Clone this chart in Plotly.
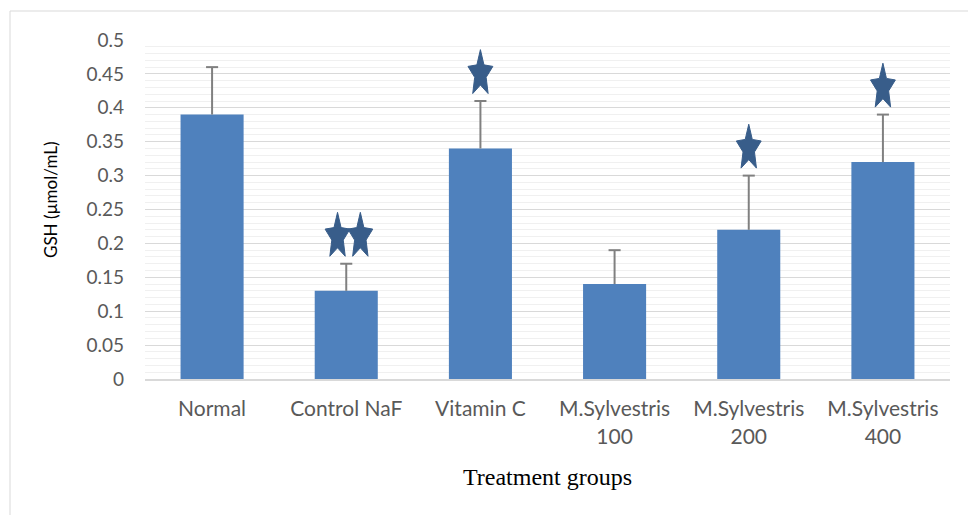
import math
import plotly.graph_objects as go

# GSH levels per treatment group (mean and SD, µmol/mL)
groups = ["Normal", "Control NaF", "Vitamin C",
          "M.Sylvestris<br>100", "M.Sylvestris<br>200", "M.Sylvestris<br>400"]
gsh_mean = [0.39, 0.13, 0.34, 0.14, 0.22, 0.32]
gsh_sd = [0.07, 0.04, 0.07, 0.05, 0.08, 0.07]
# number of significance stars shown above each group
stars = [0, 2, 1, 0, 1, 1]

BAR = "#4F81BD"
STAR = "#385D8A"
ERR = "#808080"

xpos = list(range(len(groups)))

fig = go.Figure()
fig.add_trace(go.Bar(
    x=xpos, y=gsh_mean, width=0.47,
    marker=dict(color=BAR, line=dict(width=0)),
    hoverinfo="skip", showlegend=False,
))

# upper-only error bars: stem from the bar top to mean + SD, with a cap
CAP = 0.045
ex, ey = [], []
for i, (m, s) in enumerate(zip(gsh_mean, gsh_sd)):
    ex += [i, i, None, i - CAP, i + CAP, None]
    ey += [m, m + s, None, m + s, m + s, None]
fig.add_trace(go.Scatter(
    x=ex, y=ey, mode="lines", line=dict(color=ERR, width=2),
    hoverinfo="skip", showlegend=False,
))


def star_path(cx, cy, sx=0.0975, sy=0.0358):
    """Five-pointed star polygon centred at (cx, cy) in data units."""
    xs, ys = [], []
    for k in range(10):
        ang = math.pi / 2 + k * math.pi / 5
        r = 1.0 if k % 2 == 0 else 0.46
        xs.append(cx + sx * r * math.cos(ang))
        ys.append(cy + sy * r * math.sin(ang))
    xs.append(xs[0])
    ys.append(ys[0])
    return xs, ys


sx_all, sy_all = [], []
for i, n in enumerate(stars):
    if n == 0:
        continue
    cy = gsh_mean[i] + gsh_sd[i] + 0.04
    offsets = [0.0] if n == 1 else [-0.065, 0.105]
    for off in offsets:
        xs, ys = star_path(i + off, cy)
        sx_all += xs + [None]
        sy_all += ys + [None]

fig.add_trace(go.Scatter(
    x=sx_all, y=sy_all, mode="lines", fill="toself",
    fillcolor=STAR, line=dict(color=STAR, width=1),
    hoverinfo="skip", showlegend=False,
))

SANS = "Lato, 'Open Sans', sans-serif"

fig.update_layout(
    width=968, height=515,
    margin=dict(l=145, r=18, t=40, b=136),
    paper_bgcolor="white", plot_bgcolor="white",
    xaxis=dict(
        tickmode="array", tickvals=xpos, ticktext=groups,
        range=[-0.5, len(groups) - 0.5],
        tickfont=dict(family=SANS, size=21, color="#595959"),
        showgrid=False, zeroline=False,
        showline=True, linecolor="#d9d9d9", linewidth=2,
        ticks="", ticklabelstandoff=10, automargin=False,
    ),
    yaxis=dict(
        range=[0, 0.5], dtick=0.05, tickformat="~g",
        tickfont=dict(family=SANS, size=19, color="#595959"),
        gridcolor="#d9d9d9", gridwidth=1,
        zeroline=False, showline=False, ticks="",
        ticklabelstandoff=20, automargin=False,
        minor=dict(dtick=0.01, showgrid=True, gridcolor="#f0f0f0", gridwidth=1),
    ),
    shapes=[dict(type="rect", xref="paper", yref="paper",
                 x0=-0.1677, x1=1.05, y0=-1.0, y1=1.0855,
                 line=dict(color="#d9d9d9", width=1), layer="below")],
    annotations=[
        dict(text="GSH (µmol/mL)", xref="paper", yref="paper",
             x=-0.118, y=0.528, textangle=-90, showarrow=False,
             xanchor="center", yanchor="middle",
             font=dict(family=SANS, size=17, color="black")),
        dict(text="Treatment groups", xref="paper", yref="paper",
             x=0.5, y=-0.289, showarrow=False,
             xanchor="center", yanchor="middle",
             font=dict(family="'Liberation Serif', 'Times New Roman', serif",
                       size=24, color="black")),
    ],
)

fig.write_html("out.html")
